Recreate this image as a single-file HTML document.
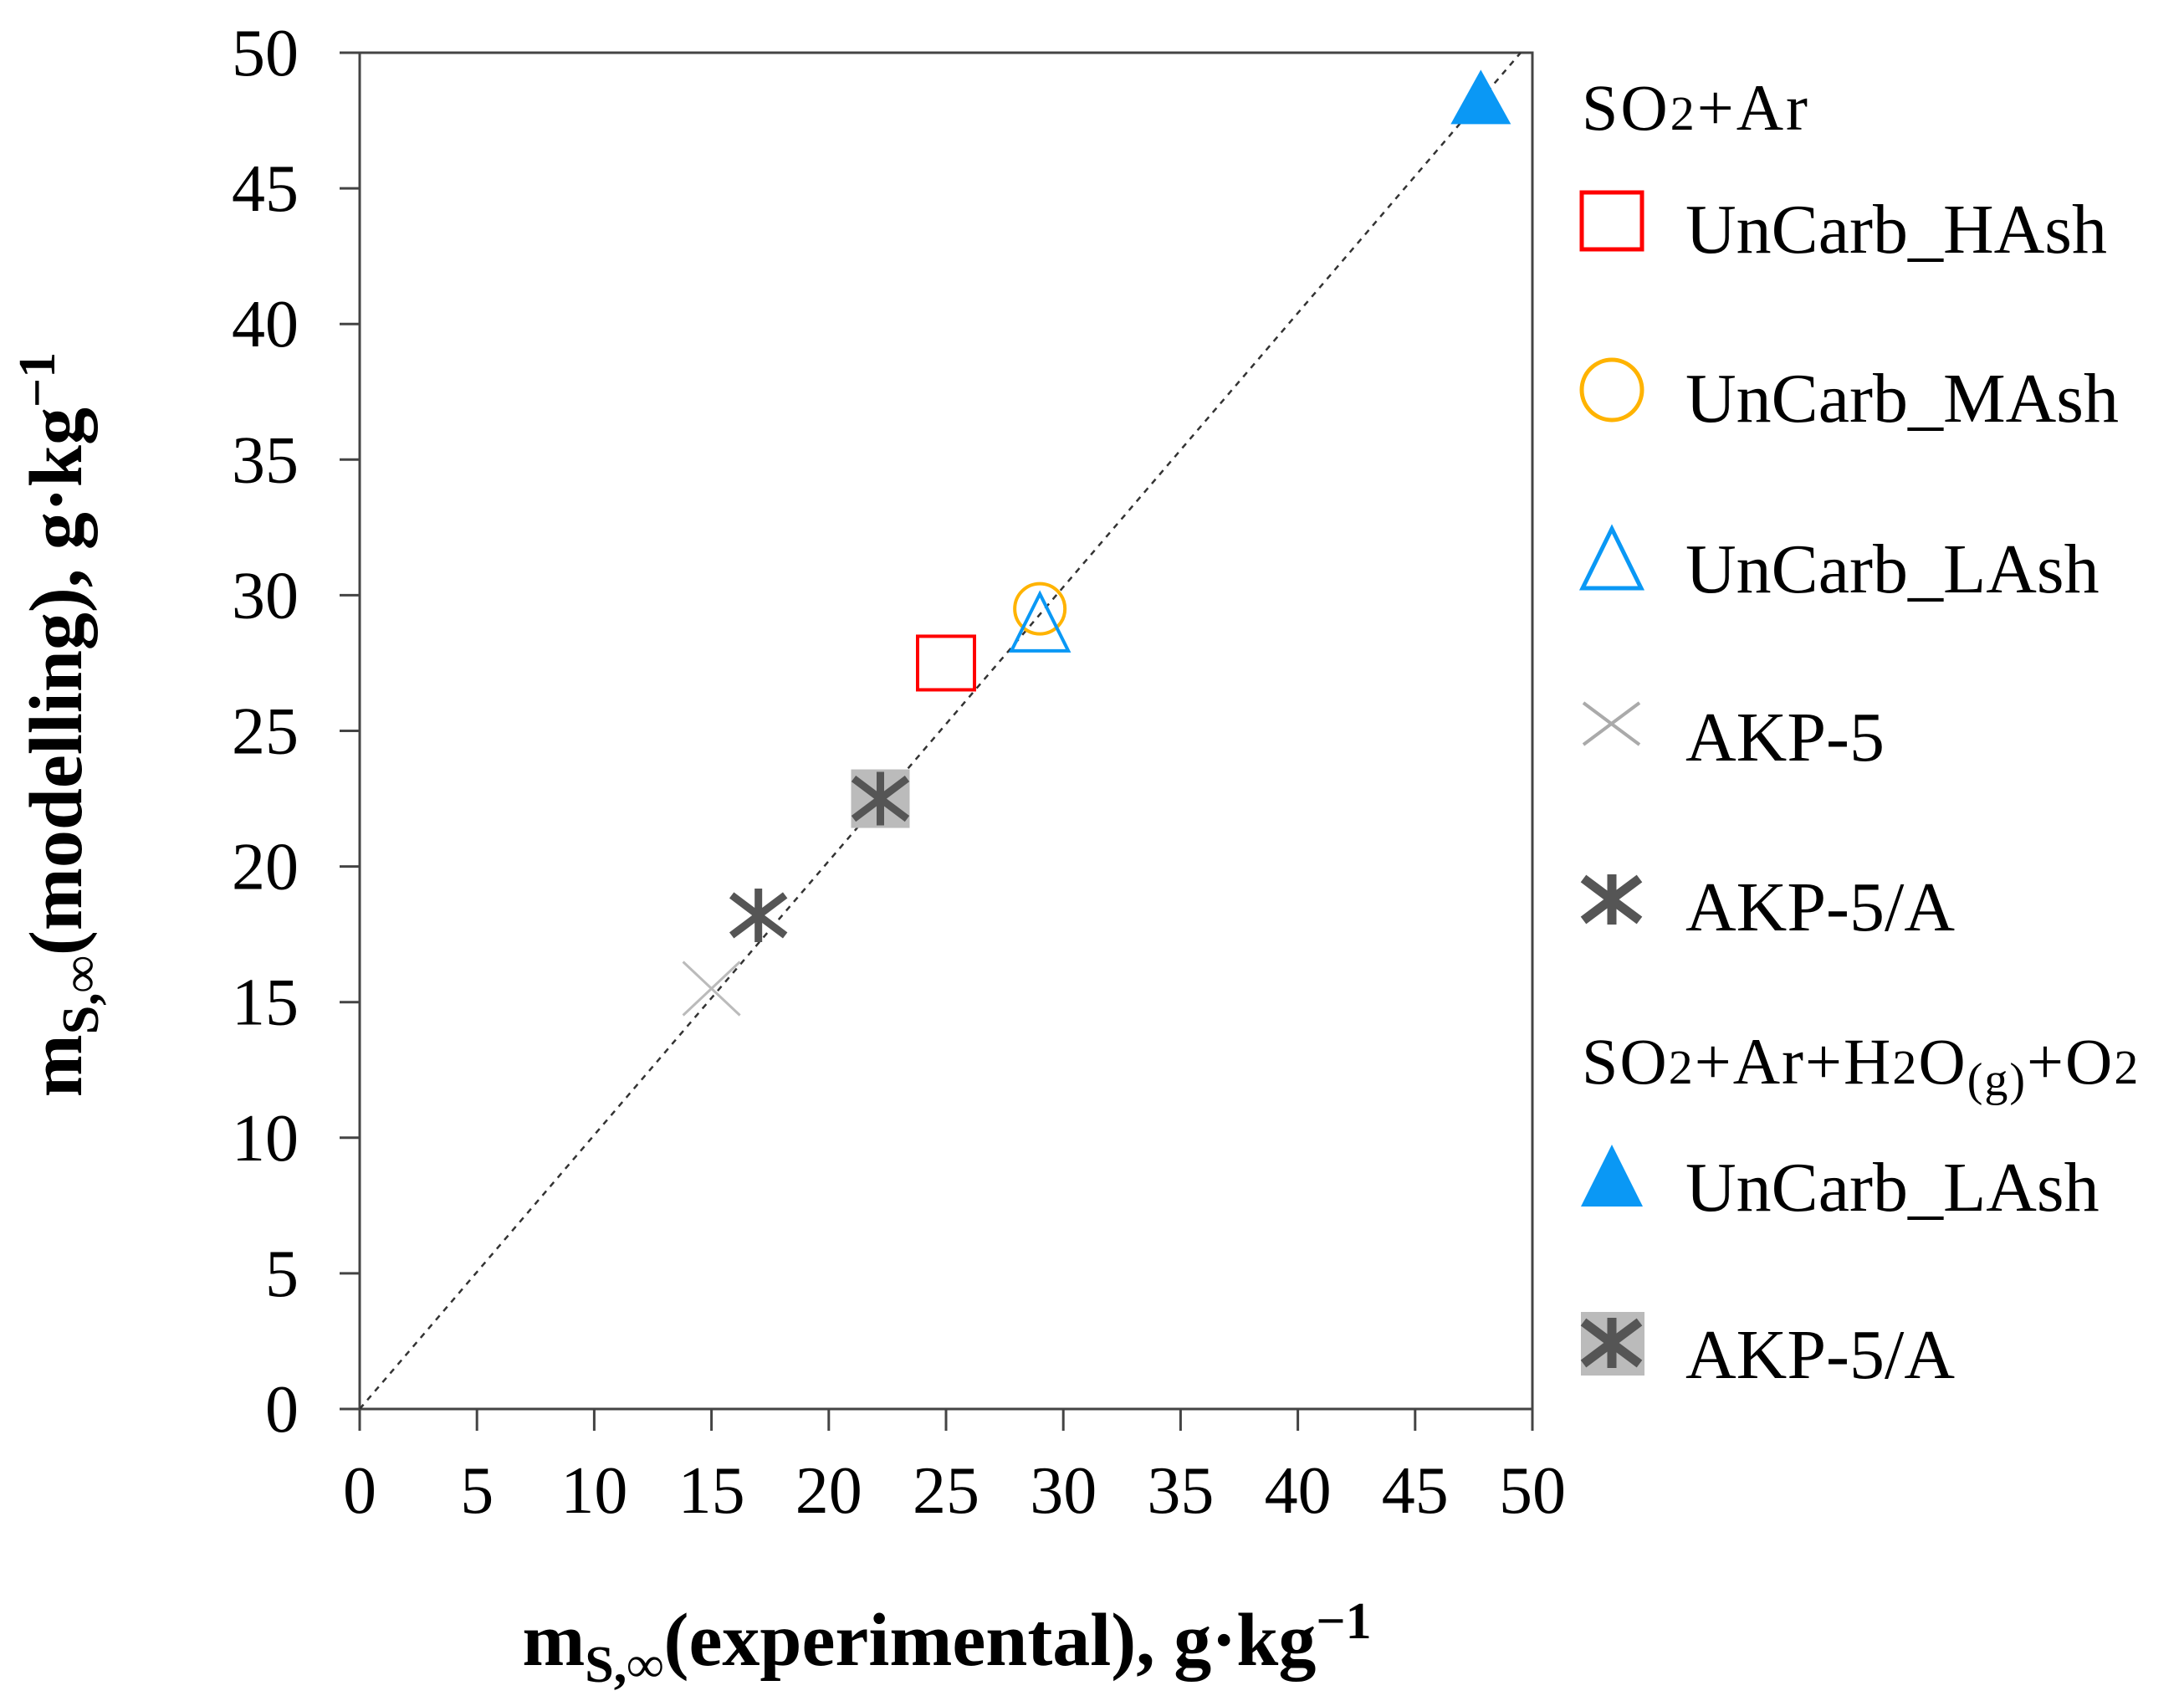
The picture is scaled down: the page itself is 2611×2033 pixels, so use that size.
<!DOCTYPE html>
<html><head><meta charset="utf-8"><style>
html,body{margin:0;padding:0;background:#fff;}
svg{display:block;font-family:"Liberation Serif",serif;}
</style></head><body>
<svg id="chart" width="2611" height="2033" viewBox="0 0 2611 2033" xmlns="http://www.w3.org/2000/svg">
<rect width="2611" height="2033" fill="#fff"/>
<g id="plot"></g>
<text x="1132" y="1990" text-anchor="middle" font-size="90" font-weight="bold">m<tspan font-size="62" dy="20">S,∞</tspan><tspan dy="-20">(experimental), g·kg</tspan><tspan font-size="62" dy="-32">−1</tspan></text>
<text transform="translate(97,866) rotate(-90)" text-anchor="middle" font-size="90" font-weight="bold">m<tspan font-size="62" dy="20">S,∞</tspan><tspan dy="-20">(modelling), g·kg</tspan><tspan font-size="62" dy="-32">−1</tspan></text>
<g id="legend">
<text x="1891" y="155" font-size="78" letter-spacing="3">SO<tspan font-size="58">2</tspan>+Ar</text>
<g><rect x="1891" y="230" width="72" height="68" fill="none" stroke="#f00" stroke-width="5"/><text x="2015" y="302" font-size="84">UnCarb_HAsh</text></g>
<g><circle cx="1927" cy="466" r="36" fill="none" stroke="#ffb300" stroke-width="5"/><text x="2015" y="504" font-size="84">UnCarb_MAsh</text></g>
<g><polygon points="1927,632 1962,703 1892,703" fill="none" stroke="#0a98f5" stroke-width="5"/><text x="2015" y="708" font-size="84">UnCarb_LAsh</text></g>
<g><path d="M1893,840 L1960,890 M1960,840 L1893,890" stroke="#aaa" stroke-width="4"/><text x="2015" y="909" font-size="84">AKP-5</text></g>
<g><path d="M1893,1050 L1960,1100 M1960,1050 L1893,1100 M1927,1045 L1927,1105" stroke="#555" stroke-width="11"/><text x="2015" y="1112" font-size="84">AKP-5/A</text></g>
<text x="1891" y="1295" font-size="78" letter-spacing="2">SO<tspan font-size="58">2</tspan>+Ar+H<tspan font-size="58">2</tspan>O<tspan font-size="56" dy="14">(g)</tspan><tspan dy="-14">+O</tspan><tspan font-size="58">2</tspan></text>
<g><polygon points="1927,1368 1964,1442 1890,1442" fill="#0a98f5"/><text x="2015" y="1447" font-size="84">UnCarb_LAsh</text></g>
<g><rect x="1890" y="1568" width="76" height="76" fill="#bbb"/><path d="M1893,1580 L1960,1630 M1960,1580 L1893,1630 M1927,1575 L1927,1635" stroke="#555" stroke-width="11"/><text x="2015" y="1647" font-size="84">AKP-5/A</text></g>
</g>
</svg>
<script>
const ticks=[0,5,10,15,20,25,30,35,40,45,50];
const tickLabels=["0","5","10","15","20","25","30","35","40","45","50"];
const seriesNames=["uncarb-hash","uncarb-mash","uncarb-lash","akp5","akp5a","uncarb-lash-wet","akp5a-wet"];
const xValues=[25.0,29.0,29.0,15.0,17.0,47.8,22.2];
const yValues=[27.5,29.5,29.0,15.5,18.2,48.2,22.5];
const markerTypes=["square","circle","triangle","x","asterisk","filledTriangle","boxAsterisk"];
const NS="http://www.w3.org/2000/svg";
const L=430,R=1832,T=63,B=1684;
const xs=v=>L+(v/50)*(R-L);
const ys=v=>B-(v/50)*(B-T);
const g=document.getElementById('plot');
function mk(tag,attrs,parent){const e=document.createElementNS(NS,tag);for(const k in attrs)e.setAttribute(k,attrs[k]);(parent||g).appendChild(e);return e;}
const frame=mk('rect',{x:L,y:T,width:R-L,height:B-T,fill:'none',stroke:'#444','stroke-width':3});


const diag=mk('line',{x1:xs(0),y1:ys(0),x2:xs(49.5),y2:ys(50),stroke:'#333','stroke-width':2.5,'stroke-dasharray':'7,7'});


ticks.forEach((t,i)=>{
  const a=mk('line',{x1:xs(t),y1:B,x2:xs(t),y2:B+26,stroke:'#444','stroke-width':3});
  
  
  const b=mk('line',{x1:L-24,y1:ys(t),x2:L,y2:ys(t),stroke:'#444','stroke-width':3});
  
  
  const tx=mk('text',{x:xs(t),y:1808,'text-anchor':'middle','font-size':80});
  tx.textContent=tickLabels[i];
  
  
  const ty=mk('text',{x:357,y:ys(t)+27,'text-anchor':'end','font-size':80});
  ty.textContent=tickLabels[i];
  
  
});
xValues.forEach((xv,i)=>{
  const cx=xs(xv),cy=ys(yValues[i]);const t=markerTypes[i];
  const grp=mk('g',{});
  
  
  if(t==='square')mk('rect',{x:cx-34,y:cy-32,width:68,height:64,fill:'none',stroke:'#f00','stroke-width':4},grp);
  else if(t==='circle')mk('circle',{cx:cx,cy:cy,r:30,fill:'none',stroke:'#ffb300','stroke-width':4},grp);
  else if(t==='triangle')mk('polygon',{points:`${cx},${cy-34} ${cx+34},${cy+34} ${cx-34},${cy+34}`,fill:'none',stroke:'#0a98f5','stroke-width':4},grp);
  else if(t==='filledTriangle')mk('polygon',{points:`${cx},${cy-38} ${cx+36},${cy+27} ${cx-36},${cy+27}`,fill:'#0a98f5'},grp);
  else if(t==='x')mk('path',{d:`M${cx-34},${cy-32} L${cx+34},${cy+32} M${cx+34},${cy-32} L${cx-34},${cy+32}`,stroke:'#bbb','stroke-width':3},grp);
  else{
    if(t==='boxAsterisk')mk('rect',{x:cx-35,y:cy-35,width:70,height:70,fill:'#bbb'},grp);
    mk('path',{d:`M${cx-32},${cy-24} L${cx+32},${cy+24} M${cx+32},${cy-24} L${cx-32},${cy+24} M${cx},${cy-32} L${cx},${cy+32}`,stroke:'#555','stroke-width':9},grp);
  }
});
</script>
</body></html>
